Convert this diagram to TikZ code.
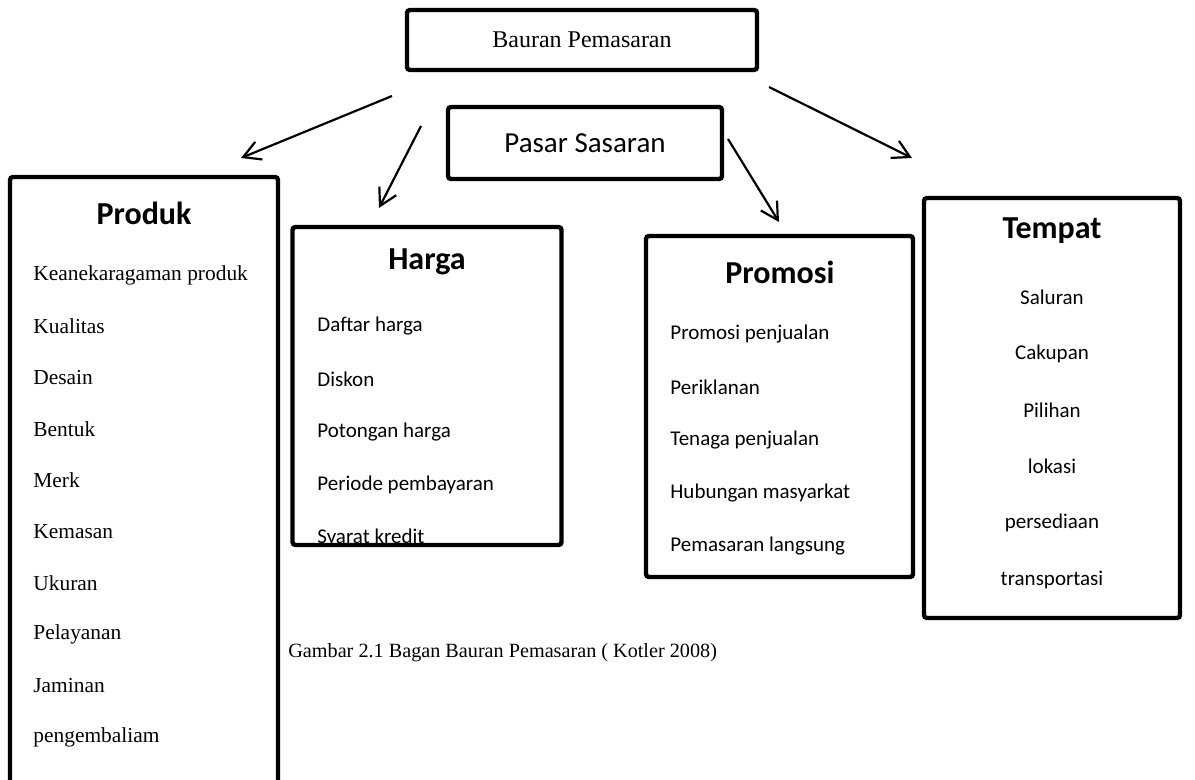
\documentclass[tikz,border=0pt]{standalone}
\usepackage{fontspec}
\setmainfont{Liberation Serif}
\newfontfamily\calibri{Carlito}
\usetikzlibrary{positioning,arrows.meta}
\tikzset{
  box/.style={draw, line width=2.2pt, rounded corners=1.5pt, inner sep=0pt},
  arr/.style={line width=1.1pt, -{Straight Barb[length=8.5pt,width=9.5pt,line width=1.1pt]}},
  title/.style={font=\calibri\bfseries\fontsize{16}{19}\selectfont},
  item/.style={font=\calibri\fontsize{10.5}{12}\selectfont, inner sep=0pt},
  tnr/.style={font=\fontsize{10.7}{13}\selectfont, anchor=west, inner sep=0pt}
}

\begin{document}
\begin{tikzpicture}[x=0.5pt,y=-0.5pt]
    \useasboundingbox (0,0) rectangle (1195,780);
    % top boxes
    \node[box, minimum width=175pt, minimum height=30pt, font=\fontsize{12}{14}\selectfont] (bauran) at (582,40) {Bauran Pemasaran};
    \node[box, minimum width=137pt, minimum height=36pt, font=\calibri\fontsize{14.5}{17}\selectfont] (pasar) at (585,143) {Pasar Sasaran};
    % the four boxes
    \node[box, minimum width=134pt, minimum height=361pt] (produk) at (144,538) {};
    \node[box, minimum width=134.5pt, minimum height=159pt] (harga) at (427,386) {};
    \node[box, minimum width=133.5pt, minimum height=170.5pt] (promosi) at (779.5,406.5) {};
    \node[box, minimum width=128pt, minimum height=210pt] (tempat) at (1052,408) {};
    % titles
    \node[title] (tproduk) at (144,213) {Produk};
    \node[title] (tharga) at (427,262) {Harga};
    \node[title] (tpromosi) at (780,272) {Promosi};
    \node[title] (ttempat) at (1052,231) {Tempat};
    % items
    \foreach \t [count=\i] in {Keanekaragaman produk, Kualitas, Desain, Bentuk, Merk,
        Kemasan, Ukuran, Pelayanan, Jaminan, pengembaliam}
      \node[tnr] (produk\i) at (33,224+51.3*\i) {\t};
    \begin{scope}
      \clip ([xshift=1.1pt,yshift=-1.1pt]harga.north west) rectangle ([xshift=-1.1pt,yshift=1.1pt]harga.south east);
      \foreach \t [count=\i] in {Daftar harga, Diskon, Potongan harga, Periode pembayaran, Syarat kredit}
        \node[item, anchor=west] (harga\i) at (317,273+53*\i) {\t};
    \end{scope}
    \foreach \t [count=\i] in {Promosi penjualan, Periklanan, Tenaga penjualan,
        Hubungan masyarkat, Pemasaran langsung}
      \node[item, anchor=west] (promosi\i) at (670,281+53*\i) {\t};
    \foreach \t [count=\i] in {Saluran, Cakupan, Pilihan, lokasi, persediaan, transportasi}
      \node[item] (tempat\i) at (1052,240.5+56.5*\i) {\t};
    % caption
    \node[tnr, font=\fontsize{10.1}{12}\selectfont] (caption) at (288,653) {Gambar 2.1 Bagan Bauran Pemasaran ( Kotler 2008)};
    % arrows
    \coordinate (s1) at (392,96);  \coordinate (e1) at (241,158);
    \coordinate (s2) at (421,126); \coordinate (e2) at (379,208);
    \coordinate (s3) at (728,139); \coordinate (e3) at (779,222);
    \coordinate (s4) at (769,87);  \coordinate (e4) at (912,158);
    \foreach \k in {1,...,4}
      \draw[arr] (s\k) -- (e\k);
\end{tikzpicture}
\end{document}
